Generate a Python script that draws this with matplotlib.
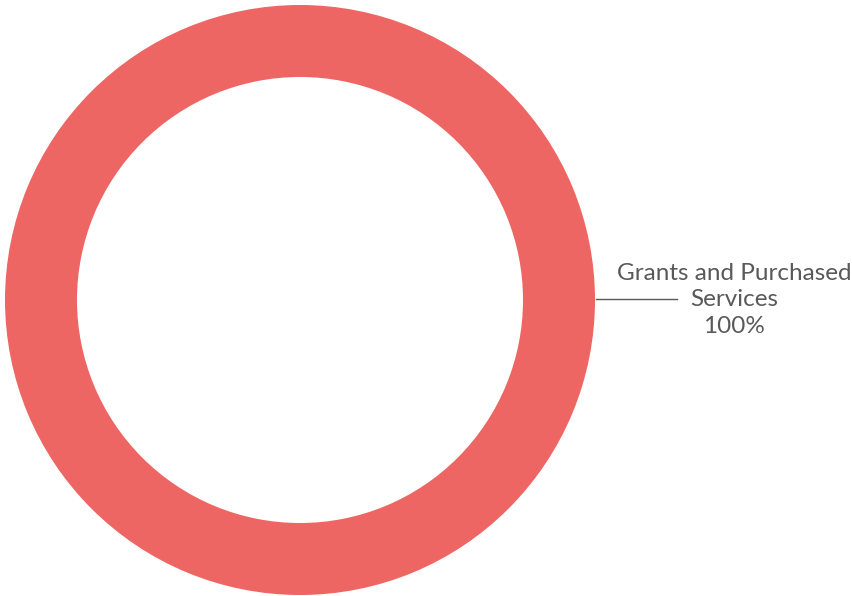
import matplotlib
matplotlib.use("Agg")
import matplotlib.pyplot as plt

categories = ["Grants and Purchased\nServices"]
values = [100]
colors = ["#EE6663"]

W, H = 852, 596
fig = plt.figure(figsize=(W / 100, H / 100), dpi=100)
ax = fig.add_axes([0, 0, 1, 1])
cx, cy, R = 300, 596 - 300, 295
wedges, _ = ax.pie(values, colors=colors, radius=R, center=(cx, cy),
                   startangle=90, counterclock=False,
                   wedgeprops=dict(width=72, linewidth=0), frame=True)
ax.set_xlim(0, W)
ax.set_ylim(0, H)
ax.set_aspect("equal")
ax.axis("off")

total = sum(values)
for cat, v in zip(categories, values):
    ax.plot([cx + R + 1, 677], [cy + 1, cy + 1], color="#595959", lw=1)
    ax.text(734, cy, f"{cat}\n{v / total * 100:.0f}%", ha="center", va="center",
            fontsize=17.5, color="#595959", family=["Lato", "DejaVu Sans"],
            linespacing=1.32)

fig.savefig("out.png", dpi=100)
